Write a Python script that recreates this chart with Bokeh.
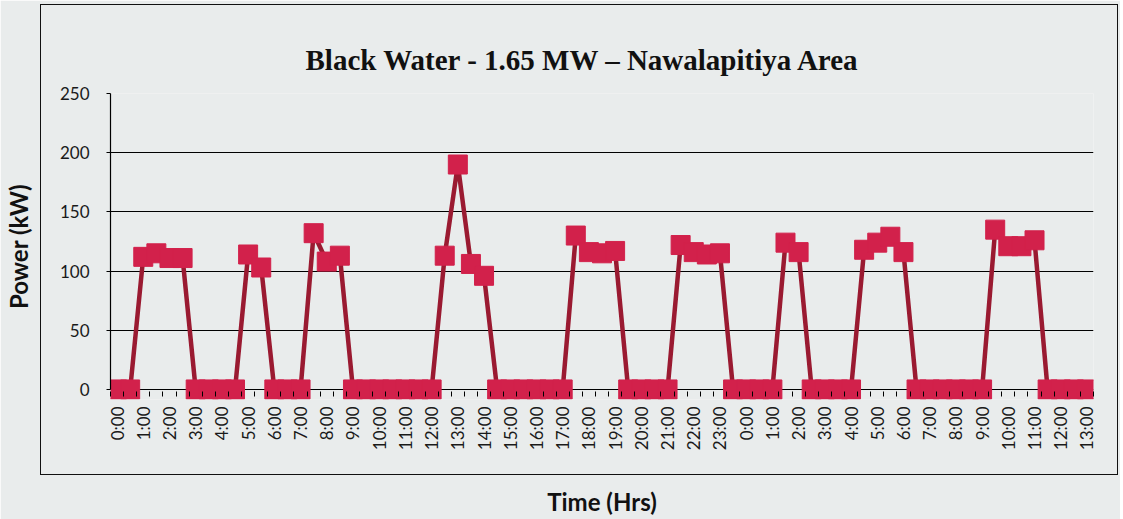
import math
from bokeh.plotting import figure
from bokeh.models import FixedTicker, Range1d, InlineStyleSheet
from bokeh.embed import file_html
from bokeh.resources import INLINE

# Half-hourly samples, 0:00 (day 1) to 13:00 (day 2)
power_kw = [
    0, 0, 112, 115, 111, 111, 0, 0, 0, 0,
    114, 103, 0, 0, 0, 132, 108, 113, 0, 0,
    0, 0, 0, 0, 0, 113, 190, 106, 96, 0,
    0, 0, 0, 0, 0, 130, 116, 115, 117, 0,
    0, 0, 0, 122, 116, 114, 115, 0, 0, 0,
    0, 124, 116, 0, 0, 0, 0, 118, 124, 129,
    116, 0, 0, 0, 0, 0, 0, 135, 121, 121,
    126, 0, 0, 0, 0,
]
sample_index = list(range(len(power_kw)))

hour_labels = [
    "0:00", "1:00", "2:00", "3:00", "4:00", "5:00", "6:00", "7:00", "8:00", "9:00",
    "10:00", "11:00", "12:00", "13:00", "14:00", "15:00", "16:00", "17:00", "18:00",
    "19:00", "20:00", "21:00", "22:00", "23:00",
    "0:00", "1:00", "2:00", "3:00", "4:00", "5:00", "6:00", "7:00", "8:00", "9:00",
    "10:00", "11:00", "12:00", "13:00",
]
y_ticks = [0, 50, 100, 150, 200, 250]

BG = "#E9ECEC"
LINE = "#9A1A31"
FILL = "#D2214B"

p = figure(
    width=1120, height=519,
    x_range=Range1d(-0.5, len(power_kw) - 0.5),
    y_range=Range1d(-8.5, 250),
    output_backend="svg", toolbar_location=None,
    min_border_left=107, min_border_right=27,
    min_border_top=93, min_border_bottom=119,
    title="Black Water - 1.65 MW \u2013 Nawalapitiya Area",
)
p.background_fill_color = BG
p.border_fill_color = BG
p.outline_line_color = None

p.title.text_font = "Liberation Serif"
p.title.text_font_style = "bold"
p.title.text_font_size = "29px"
p.title.align = "left"
p.title.offset = 195
p.title.text_color = "#111111"
p.title.standoff = 35

# x axis (the zero grid line acts as the axis line)
major = [2 * i for i in range(len(hour_labels))]
minor = [i - 0.5 for i in range(len(power_kw) + 1)]
p.xaxis.ticker = FixedTicker(ticks=major, minor_ticks=minor)
p.xaxis.major_label_overrides = {m: lab for m, lab in zip(major, hour_labels)}
p.xaxis.major_label_orientation = math.pi / 2
p.xaxis.major_tick_out = 0
p.xaxis.major_tick_in = 0
p.xaxis.minor_tick_in = 8
p.xaxis.minor_tick_out = -3
p.xaxis.minor_tick_line_color = "black"
p.xaxis.axis_line_color = None
p.xaxis.major_label_text_font = "Lato"
p.xaxis.major_label_text_font_size = "17px"
p.xaxis.major_label_text_color = "#1a1a1a"
p.xaxis.major_label_standoff = 7
p.xaxis.axis_label = "Time (Hrs)"
p.xaxis.axis_label_text_font = "Lato"
p.xaxis.axis_label_text_font_style = "bold"
p.xaxis.axis_label_text_font_size = "24px"
p.xaxis.axis_label_text_color = "#111111"
p.xaxis.axis_label_standoff = 34

# y axis
p.yaxis.ticker = FixedTicker(ticks=y_ticks)
p.yaxis.bounds = (0, 250)
p.yaxis.major_tick_out = 4
p.yaxis.major_tick_in = 0
p.yaxis.minor_tick_line_color = None
p.yaxis.axis_line_color = "black"
p.yaxis.axis_line_width = 1.2
p.yaxis.major_label_text_font = "Lato"
p.yaxis.major_label_text_font_size = "17px"
p.yaxis.major_label_text_color = "#1a1a1a"
p.yaxis.major_label_standoff = 17
p.yaxis.axis_label = "Power (kW)"
p.yaxis.axis_label_text_font = "Lato"
p.yaxis.axis_label_text_font_style = "bold"
p.yaxis.axis_label_text_font_size = "24px"
p.yaxis.axis_label_text_color = "#111111"
p.yaxis.axis_label_standoff = 24

p.xgrid.grid_line_color = None
p.ygrid.ticker = FixedTicker(ticks=y_ticks)
p.ygrid.grid_line_color = "black"
p.ygrid.grid_line_width = 1.2

# chart border box (drawn by CSS over the canvas)
p.stylesheets = [InlineStyleSheet(css=(
    ":host{position:relative;}"
    ":host::after{content:'';position:absolute;left:40px;top:4px;width:1078px;"
    "height:471px;border:1.5px solid #111;box-sizing:border-box;pointer-events:none;}"
))]

p.line(sample_index, power_kw, line_color=LINE, line_width=4.5)
p.scatter(sample_index, power_kw, marker="square", size=19,
          fill_color=FILL, line_color=FILL, line_width=1)

open("out.html", "w").write(file_html(p, INLINE))
